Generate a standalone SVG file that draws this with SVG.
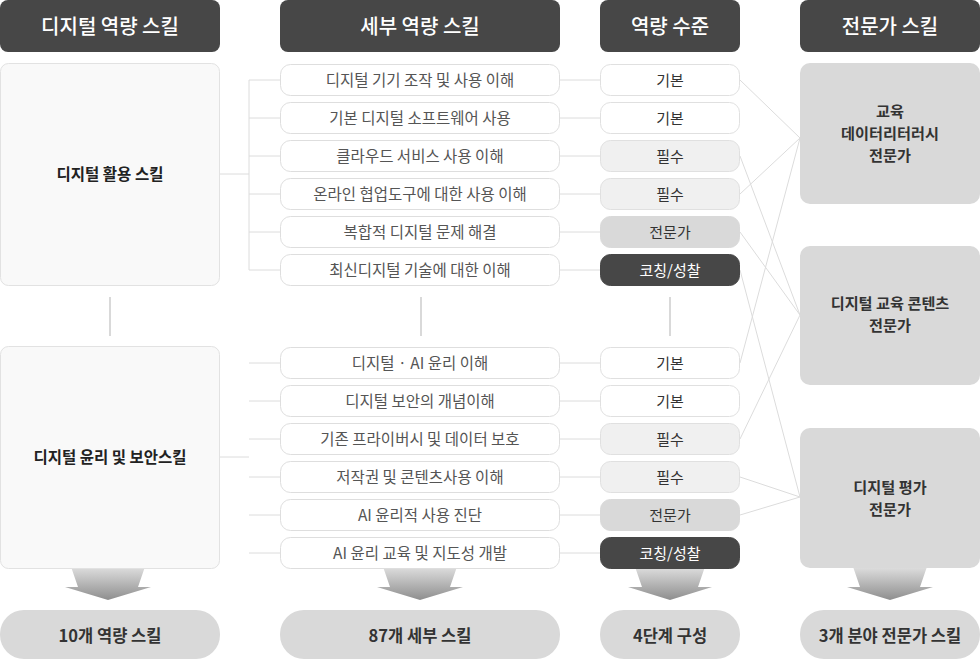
<svg xmlns="http://www.w3.org/2000/svg" width="980" height="659" viewBox="0 0 980 659">
<style>
text{font-family:"Noto Sans CJK KR","Noto Sans",sans-serif;text-anchor:middle}
.hd rect{fill:#474747}
.hd text{fill:#fff;font-size:20px;font-weight:500}
.big rect{fill:#f9f9f9;stroke:#e2e2e2;stroke-width:1}
.big text{fill:#222;font-size:15.5px;font-weight:700}
.it rect{fill:#fff;stroke:#dedede;stroke-width:1}
.it text{fill:#555;font-size:15.5px}
.lv rect{stroke:#e0e0e0;stroke-width:1}
.lv text{font-size:15px;fill:#333}
.b rect{fill:#fff}
.p rect{fill:#f0f0f0}
.e rect{fill:#d9d9d9;stroke:#d9d9d9}
.c rect{fill:#474747;stroke:#474747}
.c text{fill:#fff}
.ex rect{fill:#d9d9d9}
.ex text{fill:#333;font-size:15.2px;font-weight:700}
.ft rect{fill:#d9d9d9}
.ft text{fill:#333;font-size:16.5px;font-weight:700}
.tree{stroke:#dcdcdc;stroke-width:1;fill:none}
.sep{stroke:#cccccc;stroke-width:1.5}
.x{stroke:#dcdcdc;stroke-width:1;fill:none}
.arr{fill:url(#g)}
</style>
<defs>
<linearGradient id="g" x1="0" y1="0" x2="0" y2="1">
<stop offset="0" stop-color="#f4f4f4"/>
<stop offset="1" stop-color="#8e8e8e"/>
</linearGradient>
</defs>

<g id="arrows">
<polygon class="arr" points="68,558 148,558 138,587 151,587 108,600 65,587 78,587"/>
<polygon class="arr" points="380,558 460,558 450,587 463,587 420,600 377,587 390,587"/>
<polygon class="arr" points="632,558 708,558 698,587 712,587 670,600 628,587 642,587"/>
<polygon class="arr" points="850,558 930,558 920,587 933,587 890,600 847,587 860,587"/>
</g>

<g id="headers" class="hd">
<g id="h1"><rect x="0" y="0" width="220" height="52" rx="8"/><text x="110" y="34">디지털 역량 스킬</text></g>
<g id="h2"><rect x="280" y="0" width="280" height="52" rx="8"/><text x="420" y="34">세부 역량 스킬</text></g>
<g id="h3"><rect x="600" y="0" width="140" height="52" rx="8"/><text x="670" y="34">역량 수준</text></g>
<g id="h4"><rect x="800" y="0" width="180" height="52" rx="8"/><text x="890" y="34">전문가 스킬</text></g>
</g>

<g id="connectors">
<path class="tree" d="M220,174H249M249,80V270M249,80H280M249,118H280M249,156H280M249,194H280M249,232H280M249,270H280"/>
<path class="tree" d="M220,457H249M249,363H280M249,401H280M249,439H280M249,477H280M249,515H280M249,553H280"/>
<path class="tree" d="M560,80H600M560,118H600M560,156H600M560,194H600M560,232H600M560,270H600M560,363H600M560,401H600M560,439H600M560,477H600M560,515H600M560,553H600"/>
<line class="sep" x1="110" y1="297" x2="110" y2="336"/>
<line class="sep" x1="421" y1="297" x2="421" y2="336"/>
<line class="sep" x1="670" y1="297" x2="670" y2="336"/>
<path class="x" d="M740,80L800,138M740,194L800,138M740,363L800,138M740,156L800,315M740,232L800,315M740,439L800,315M740,270L800,497M740,477L800,497M740,515L800,497"/>
</g>

<g id="skills" class="big">
<g id="s1"><rect x="0.5" y="63.5" width="219" height="222" rx="8"/><text x="110" y="179.5">디지털 활용 스킬</text></g>
<g id="s2"><rect x="0.5" y="346.5" width="219" height="222" rx="8"/><text x="110" y="462.5">디지털 윤리 및 보안스킬</text></g>
</g>

<g id="items" class="it">
<g id="i1"><rect x="280.5" y="64.5" width="279" height="31" rx="10"/><text x="420" y="85.5">디지털 기기 조작 및 사용 이해</text></g>
<g id="i2"><rect x="280.5" y="102.5" width="279" height="31" rx="10"/><text x="420" y="123.5">기본 디지털 소프트웨어 사용</text></g>
<g id="i3"><rect x="280.5" y="140.5" width="279" height="31" rx="10"/><text x="420" y="161.5">클라우드 서비스 사용 이해</text></g>
<g id="i4"><rect x="280.5" y="178.5" width="279" height="31" rx="10"/><text x="420" y="199.5">온라인 협업도구에 대한 사용 이해</text></g>
<g id="i5"><rect x="280.5" y="216.5" width="279" height="31" rx="10"/><text x="420" y="237.5">복합적 디지털 문제 해결</text></g>
<g id="i6"><rect x="280.5" y="254.5" width="279" height="31" rx="10"/><text x="420" y="275.5">최신디지털 기술에 대한 이해</text></g>
<g id="i7"><rect x="280.5" y="347.5" width="279" height="31" rx="10"/><text x="420" y="368.5">디지털 · AI 윤리 이해</text></g>
<g id="i8"><rect x="280.5" y="385.5" width="279" height="31" rx="10"/><text x="420" y="406.5">디지털 보안의 개념이해</text></g>
<g id="i9"><rect x="280.5" y="423.5" width="279" height="31" rx="10"/><text x="420" y="444.5">기존 프라이버시 및 데이터 보호</text></g>
<g id="i10"><rect x="280.5" y="461.5" width="279" height="31" rx="10"/><text x="420" y="482.5">저작권 및 콘텐츠사용 이해</text></g>
<g id="i11"><rect x="280.5" y="499.5" width="279" height="31" rx="10"/><text x="420" y="520.5">AI 윤리적 사용 진단</text></g>
<g id="i12"><rect x="280.5" y="537.5" width="279" height="31" rx="10"/><text x="420" y="558.5">AI 윤리 교육 및 지도성 개발</text></g>
</g>

<g id="levels" class="lv">
<g id="l1" class="b"><rect x="600.5" y="64.5" width="139" height="31" rx="10"/><text x="670" y="85.5">기본</text></g>
<g id="l2" class="b"><rect x="600.5" y="102.5" width="139" height="31" rx="10"/><text x="670" y="123.5">기본</text></g>
<g id="l3" class="p"><rect x="600.5" y="140.5" width="139" height="31" rx="10"/><text x="670" y="161.5">필수</text></g>
<g id="l4" class="p"><rect x="600.5" y="178.5" width="139" height="31" rx="10"/><text x="670" y="199.5">필수</text></g>
<g id="l5" class="e"><rect x="600.5" y="216.5" width="139" height="31" rx="10"/><text x="670" y="237.5">전문가</text></g>
<g id="l6" class="c"><rect x="600.5" y="254.5" width="139" height="31" rx="10"/><text x="670" y="275.5">코칭/성찰</text></g>
<g id="l7" class="b"><rect x="600.5" y="347.5" width="139" height="31" rx="10"/><text x="670" y="368.5">기본</text></g>
<g id="l8" class="b"><rect x="600.5" y="385.5" width="139" height="31" rx="10"/><text x="670" y="406.5">기본</text></g>
<g id="l9" class="p"><rect x="600.5" y="423.5" width="139" height="31" rx="10"/><text x="670" y="444.5">필수</text></g>
<g id="l10" class="p"><rect x="600.5" y="461.5" width="139" height="31" rx="10"/><text x="670" y="482.5">필수</text></g>
<g id="l11" class="e"><rect x="600.5" y="499.5" width="139" height="31" rx="10"/><text x="670" y="520.5">전문가</text></g>
<g id="l12" class="c"><rect x="600.5" y="537.5" width="139" height="31" rx="10"/><text x="670" y="558.5">코칭/성찰</text></g>
</g>

<g id="experts" class="ex">
<g id="e1"><rect x="800" y="63" width="180" height="141" rx="10"/><text x="890" y="117">교육</text><text x="890" y="139">데이터리터러시</text><text x="890" y="161">전문가</text></g>
<g id="e2"><rect x="800" y="246" width="180" height="139" rx="10"/><text x="890" y="309">디지털 교육 콘텐츠</text><text x="890" y="331">전문가</text></g>
<g id="e3"><rect x="800" y="428" width="180" height="140" rx="10"/><text x="890" y="493">디지털 평가</text><text x="890" y="515">전문가</text></g>
</g>

<g id="footers" class="ft">
<g id="f1"><rect x="0" y="610" width="220" height="49" rx="24"/><text x="110" y="642">10개 역량 스킬</text></g>
<g id="f2"><rect x="280" y="610" width="280" height="49" rx="24"/><text x="420" y="642">87개 세부 스킬</text></g>
<g id="f3"><rect x="600" y="610" width="140" height="49" rx="24"/><text x="670" y="642">4단계 구성</text></g>
<g id="f4"><rect x="800" y="610" width="180" height="49" rx="24"/><text x="890" y="642">3개 분야 전문가 스킬</text></g>
</g>
</svg>
